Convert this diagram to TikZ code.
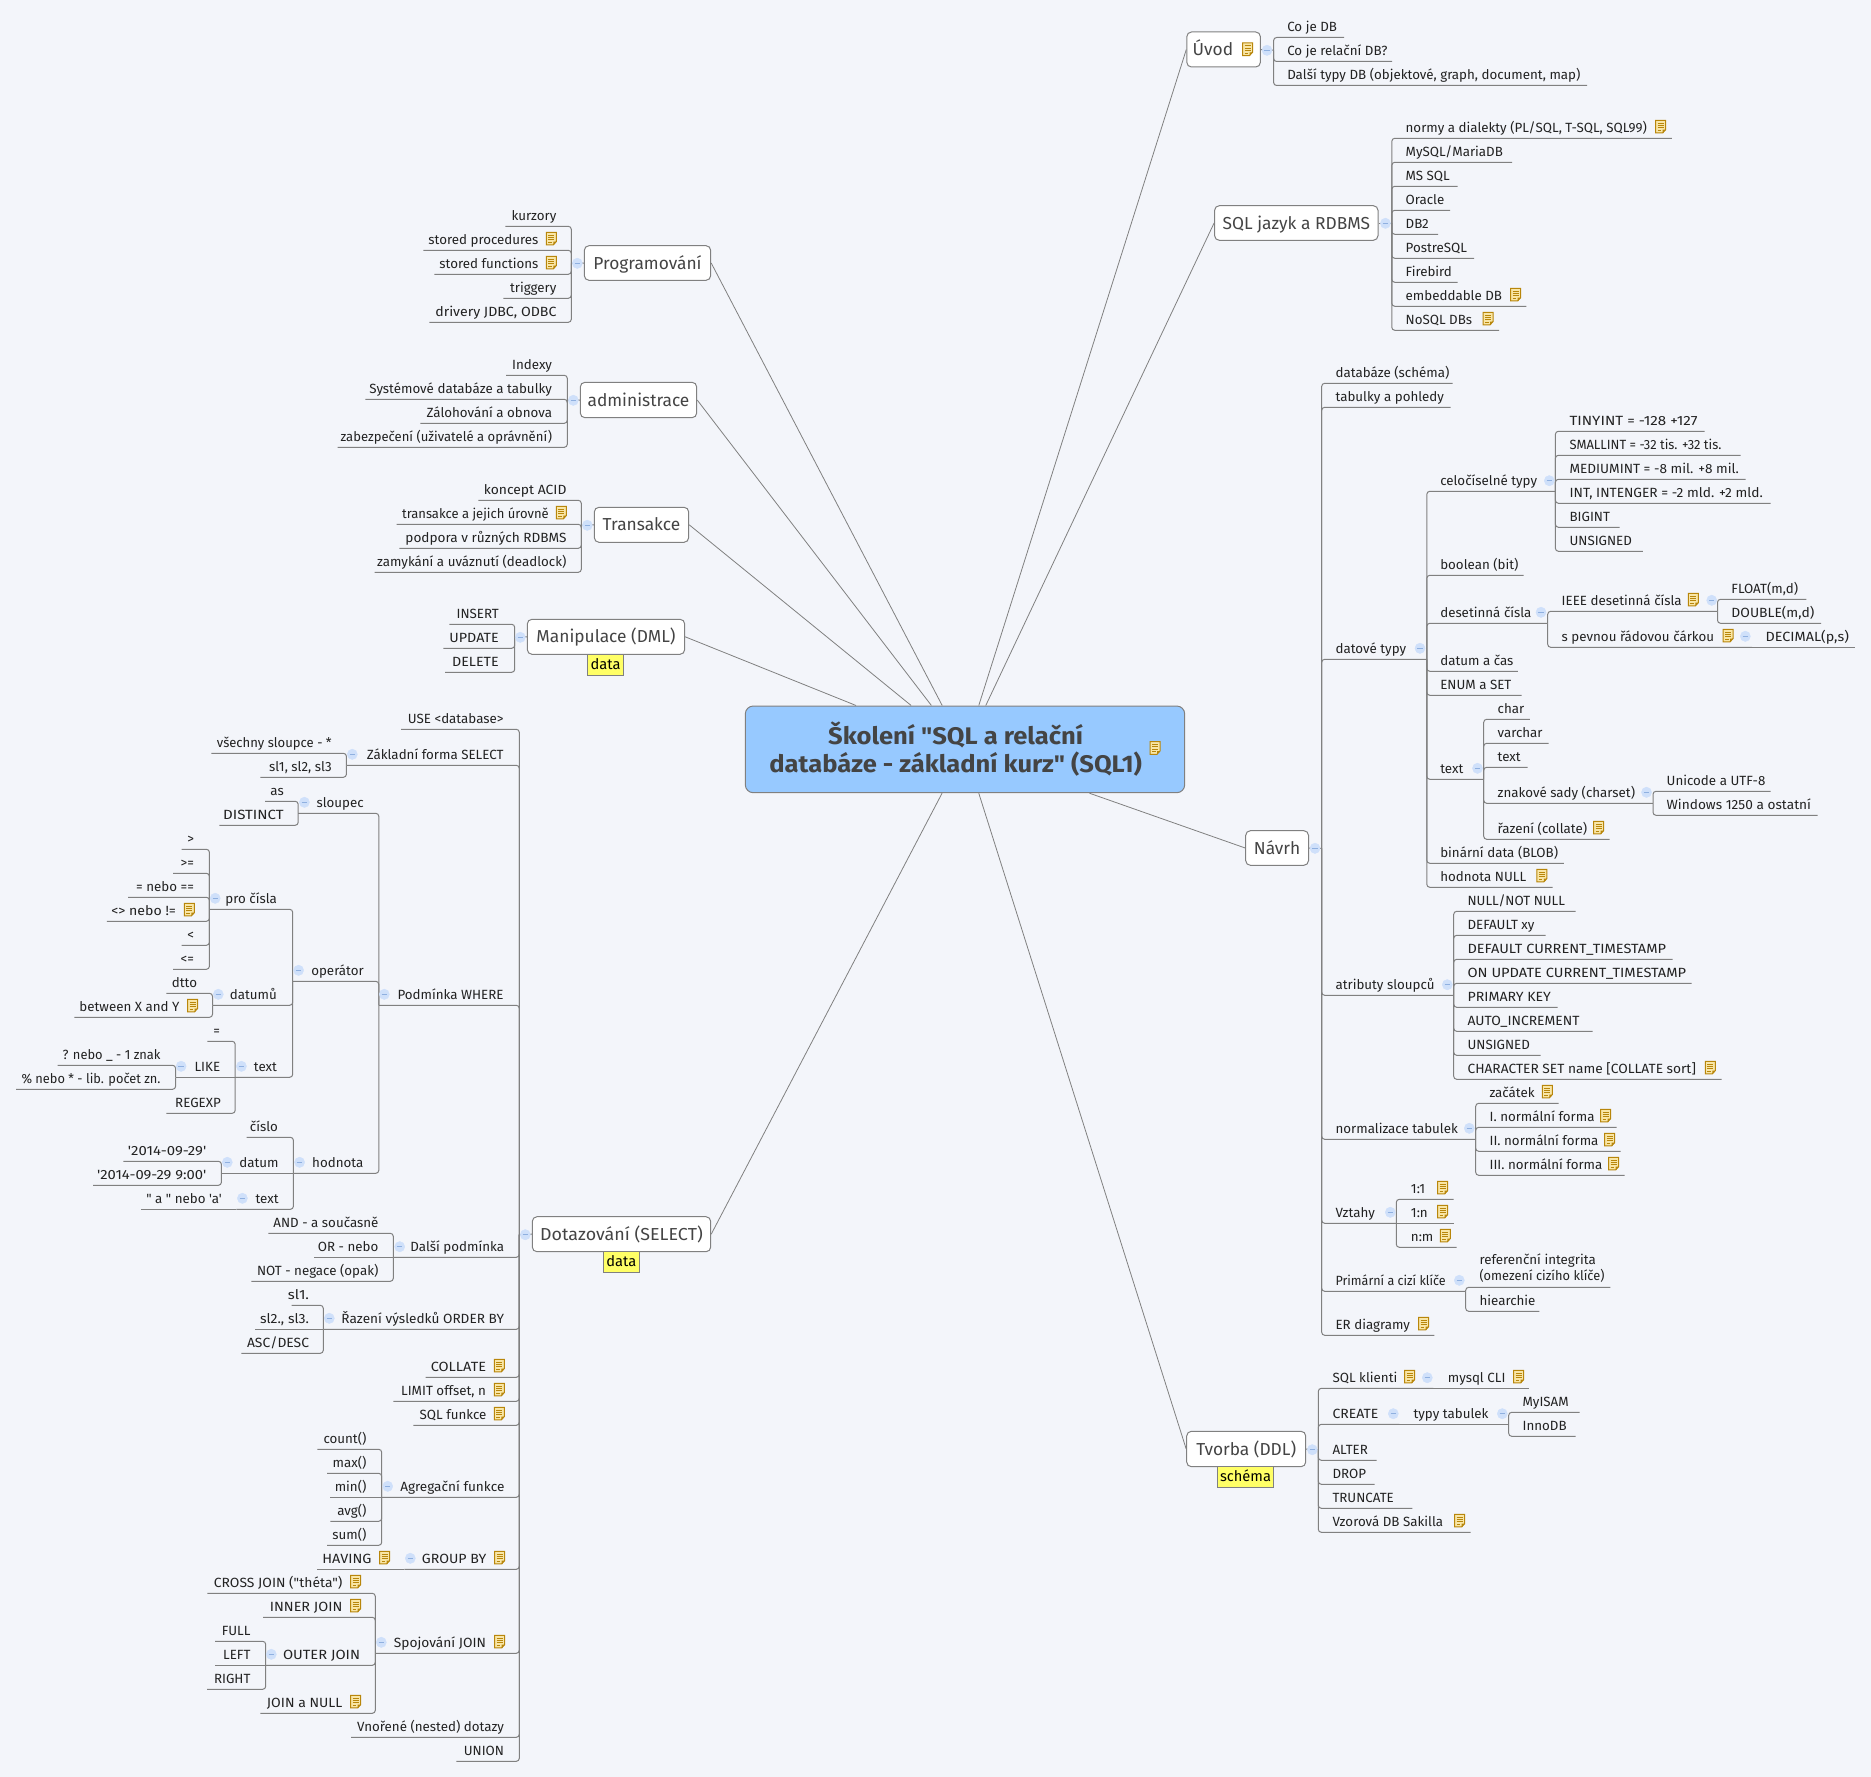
\documentclass[tikz,border=0pt]{standalone}
\usepackage{graphicx}
\usepackage{fontspec}
\newfontfamily\uifont{Fira Sans}
\newfontfamily\cenfont[FakeStretch=1.065]{Fira Sans}
\newcommand\fx[2]{\scalebox{#1}[1]{#2}}
\definecolor{bgc}{HTML}{F3F5FA}
\definecolor{linec}{HTML}{808080}
\definecolor{leafc}{HTML}{222222}
\definecolor{topc}{HTML}{444444}
\definecolor{cenf}{HTML}{97C9FF}
\definecolor{tagf}{HTML}{FFFF66}
\definecolor{togf}{HTML}{CFE0FA}
\definecolor{togm}{HTML}{8FB0E0}
\definecolor{notef}{HTML}{F9E6A6}
\definecolor{notec}{HTML}{B8860B}
\pgfdeclarelayer{conn}
\pgfsetlayers{conn,main}
\usetikzlibrary{shapes.geometric}
\tikzset{
 leaf/.style={font=\uifont\fontsize{10}{12}\selectfont,text=leafc,inner sep=0pt},
 conn/.style={draw=linec,line width=.75pt,rounded corners=2.25pt},
 spoke/.style={draw=linec,line width=.6pt},
 topic/.style={draw=linec,fill=white,line width=.75pt,rounded corners=3.5pt,inner sep=0pt,
   font=\uifont\fontsize{13}{15}\selectfont,text=topc,text height=12pt,text depth=3pt},
 centre/.style={draw=linec,fill=cenf,line width=.75pt,rounded corners=6pt,inner sep=0pt,
   font=\cenfont\bfseries\fontsize{18}{21.3}\selectfont,text=topc,align=center},
 tagbox/.style={draw=linec,fill=tagf,line width=.6pt,inner sep=0pt,
   font=\uifont\fontsize{11}{13}\selectfont,text=black,text height=8.6pt,text depth=2.2pt},
 tog/.style={ellipse,fill=togf,draw=togf,line width=.3pt,inner sep=0pt,minimum width=7.6pt,minimum height=7.8pt},
}
\newcommand\NT[2]{\begin{scope}[shift={(#1,#2-11.7)}]
 \draw[notec,fill=notef,line width=.75pt] (-5,-6.3) -- (5,-6.3) -- (5,3) -- (2,6.3) -- (-5,6.3) -- cycle;
 \fill[notec] (5,3) -- (2,3) -- (2,6.3) -- cycle;
 \draw[notec,line width=.5pt] (-3,-3.6) -- (3,-3.6) (-3,-1.2) -- (3,-1.2) (-3,1.2) -- (3,1.2) (-3,3.6) -- (0.5,3.6);
\end{scope}}
\newcommand\BAR[5]{\coordinate (#1) at (#2,#3);
 \node[tog] (#1c) at (#4,#5) {};
 \draw[togm,line width=.5pt] ([xshift=-2pt]#1c.center) -- ([xshift=2pt]#1c.center);}
\newdimen\cya \newdimen\cyb
\newcommand\CONNECT[2]{%
 \pgfextracty{\cya}{\pgfpointanchor{#1}{center}}%
 \pgfextracty{\cyb}{\pgfpointanchor{#2}{center}}%
 \advance\cya by -\cyb
 \ifdim\cya<0pt \cya=-\cya \fi
 \begin{pgfonlayer}{conn}%
 \ifdim\cya<0.3pt \draw[conn] (#1) -- (#2);\else \draw[conn] (#1) |- (#2);\fi
 \end{pgfonlayer}}
% [note x]{name}{parent}{y}{text x}{line end}{text}
\newcommand\RL[7][]{\node[leaf,anchor=base west] (#2) at (#5,#4-6.2) {#7};
 \coordinate (#2e) at (#6,#4);
 \CONNECT{#3}{#2e}
 \def\tmpn{#1}\ifx\tmpn\empty\else\NT{#1}{#4}\fi}
\newcommand\LL[7][]{\node[leaf,anchor=base east] (#2) at (#5,#4-6.2) {#7};
 \coordinate (#2e) at (#6,#4);
 \CONNECT{#3}{#2e}
 \def\tmpn{#1}\ifx\tmpn\empty\else\NT{#1}{#4}\fi}
\newcommand\TOPIC[7][]{\node[#1,minimum width={(#5-#3)*0.75pt},minimum height={(#6-#4)*0.75pt}] (#2) at ({(#3+#5)/2},{(#4+#6)/2}) {#7};}
\newcommand\STUB[2]{\begin{pgfonlayer}{conn}\draw[conn] (#1) -- (#2);\end{pgfonlayer}}
\newcommand\SPOKE[1]{\begin{pgfonlayer}{conn}\draw[spoke] (central) -- (#1);\end{pgfonlayer}}
\begin{document}
\begin{tikzpicture}[x=0.75pt,y=-0.75pt]
\useasboundingbox (0,0) rectangle (1871,1777);
\begin{pgfonlayer}{conn}\fill[bgc] (0,0) rectangle (1871,1777);\end{pgfonlayer}
% centre
\TOPIC[centre]{central}{745.3}{706}{1184.7}{792.7}{Školení "SQL a relační\hspace{14pt}\mbox{}\\databáze - základní kurz" (SQL1)\hspace{14pt}\mbox{}}
\NT{1155}{759.7}
% ----- Uvod
\TOPIC[topic]{uvod}{1186.8}{32}{1260.4}{67}{Úvod\hspace{16pt}\mbox{}}
\NT{1247.5}{61}
\SPOKE{uvod.west}
\BAR{pU}{1273.6}{50.3}{1267}{50.3}
\STUB{uvod.east}{pU}
\RL{u1}{pU}{37.5}{1287}{1344}{Co je DB}
\RL{u2}{pU}{61.5}{1287}{1392}{Co je relační DB?}
\RL{u3}{pU}{85.5}{1287}{1587}{Další typy DB (objektové, graph, document, map)}
% ----- SQL
\TOPIC[topic]{sql}{1214.6}{205.7}{1378}{240.3}{SQL jazyk a RDBMS}
\SPOKE{sql.west}
\BAR{pS}{1391.8}{223}{1385.4}{223.3}
\STUB{sql.east}{pS}
\RL[1660.7]{s1}{pS}{138.3}{1405.4}{1671.8}{normy a dialekty (PL/SQL, T-SQL, SQL99)}
\RL{s2}{pS}{162.3}{1405.4}{1512}{MySQL/MariaDB}
\RL{s3}{pS}{186.3}{1405.4}{1457.5}{MS SQL}
\RL{s4}{pS}{210.3}{1405.4}{1450}{Oracle}
\RL{s5}{pS}{234.3}{1405.4}{1438}{DB2}
\RL{s6}{pS}{258.3}{1405.4}{1474}{PostreSQL}
\RL{s7}{pS}{282.3}{1405.4}{1457.5}{Firebird}
\RL[1515.7]{s8}{pS}{306.3}{1405.4}{1526.4}{embeddable DB}
\RL[1488]{s9}{pS}{330.3}{1405.4}{1499}{NoSQL DBs}
% ----- Navrh
\TOPIC[topic]{navrh}{1245.7}{830.7}{1308.5}{865.3}{Návrh}
\SPOKE{navrh.west}
\BAR{pN}{1321.7}{848.3}{1315}{848.3}
\STUB{navrh.east}{pN}
\RL{n1}{pN}{383.3}{1335.3}{1452.7}{databáze (schéma)}
\RL{n2}{pN}{407.3}{1335.3}{1450.7}{tabulky a pohledy}
\RL{n3}{pN}{659.3}{1335.3}{1426.8}{datové typy}
\BAR{pD}{1426.8}{659.3}{1420}{648.3}
\RL{d1}{pD}{491.3}{1440}{1555.4}{celočíselné typy}
\BAR{pDa}{1555.4}{491.3}{1549.3}{480.7}
\RL{da1}{pDa}{431.3}{1569.3}{1704.7}{\fx{1.137}{TINYINT = -128 +127}}
\RL{da2}{pDa}{455.3}{1569.3}{1740.7}{\fx{0.97}{SMALLINT = -32 tis. +32 tis.}}
\RL{da3}{pDa}{479.3}{1569.3}{1745.7}{\fx{1.02}{MEDIUMINT = -8 mil. +8 mil.}}
\RL{da4}{pDa}{503.3}{1569.3}{1770.7}{\fx{1.03}{INT, INTENGER = -2 mld. +2 mld.}}
\RL{da5}{pDa}{527.3}{1569.3}{1619.5}{BIGINT}
\RL{da6}{pDa}{551.3}{1569.3}{1642.8}{UNSIGNED}
\RL{d2}{pD}{575.3}{1440}{1523.6}{boolean (bit)}
\RL{d3}{pD}{623.3}{1440}{1547.7}{desetinná čísla}
\BAR{pDb}{1547.7}{623.3}{1541}{612.3}
\RL[1693.4]{db1}{pDb}{611.3}{1561.4}{1717.5}{IEEE desetinná čísla}
\BAR{pDc}{1717.5}{611.3}{1711.7}{600.3}
\RL{dc1}{pDc}{599.3}{1731.2}{1806.4}{FLOAT(m,d)}
\RL{dc2}{pDc}{623.3}{1731.2}{1821}{\fx{1.04}{DOUBLE(m,d)}}
\RL[1728]{db2}{pDb}{647.3}{1561.4}{1752}{s pevnou řádovou čárkou}
\BAR{pDd}{1752}{647.3}{1745.3}{636.3}
\RL{dd1}{pDd}{647.3}{1765.3}{1854.5}{\fx{1.077}{DECIMAL(p,s)}}
\RL{d4}{pD}{671.3}{1440}{1517.8}{datum a čas}
\RL{d5}{pD}{695.3}{1440}{1521.5}{ENUM a SET}
\RL{d6}{pD}{779.3}{1440}{1483.7}{text}
\BAR{pDe}{1483.7}{779.3}{1477.5}{768.3}
\RL{de1}{pDe}{719.3}{1497.4}{1529.8}{char}
\RL{de2}{pDe}{743.3}{1497.4}{1548.5}{varchar}
\RL{de3}{pDe}{767.3}{1497.4}{1527.7}{text}
\RL{de4}{pDe}{803.3}{1497.4}{1653}{znakové sady (charset)}
\BAR{pDf}{1653}{803.3}{1646.5}{792.3}
\RL{df1}{pDf}{791.3}{1666.4}{1770.7}{Unicode a UTF-8}
\RL{df2}{pDf}{815.3}{1666.4}{1817.6}{\fx{1.025}{Windows 1250 a ostatní}}
\RL[1598.7]{de5}{pDe}{839.3}{1497.4}{1609.5}{řazení (collate)}
\RL{d7}{pD}{863.3}{1440}{1563.9}{binární data (BLOB)}
\RL[1541.8]{d8}{pD}{887.3}{1440}{1552.6}{hodnota NULL}
\RL{n4}{pN}{995.3}{1335.3}{1453.7}{atributy sloupců}
\BAR{pA}{1453.7}{995.3}{1447.3}{984.7}
\RL{a1}{pA}{911.3}{1467.3}{1575.7}{NULL/NOT NULL}
\RL{a2}{pA}{935.3}{1467.3}{1545.7}{DEFAULT xy}
\RL{a3}{pA}{959.3}{1467.3}{1672.7}{\fx{1.09}{DEFAULT CURRENT\_TIMESTAMP}}
\RL{a4}{pA}{983.3}{1467.3}{1691.7}{\fx{1.095}{ON UPDATE CURRENT\_TIMESTAMP}}
\RL{a5}{pA}{1007.3}{1467.3}{1557.7}{\fx{1.06}{PRIMARY KEY}}
\RL{a6}{pA}{1031.3}{1467.3}{1592.7}{\fx{1.04}{AUTO\_INCREMENT}}
\RL{a7}{pA}{1055.3}{1467.3}{1540.7}{UNSIGNED}
\RL[1710.3]{a8}{pA}{1079.3}{1467.3}{1721.7}{\fx{1.03}{CHARACTER SET name [COLLATE sort]}}
\RL{n5}{pN}{1139.3}{1335.3}{1475.7}{normalizace tabulek}
\BAR{pF}{1475.7}{1139.3}{1469.3}{1128.3}
\RL[1547.3]{f1}{pF}{1103.3}{1489.3}{1558.7}{začátek}
\RL[1605.7]{f2}{pF}{1127.3}{1489.3}{1616.7}{I. normální forma}
\RL[1609.7]{f3}{pF}{1151.3}{1489.3}{1620.7}{II. normální forma}
\RL[1613.7]{f4}{pF}{1175.3}{1489.3}{1624.7}{III. normální forma}
\RL{n6}{pN}{1223.3}{1335.3}{1396.3}{Vztahy}
\BAR{pV}{1396.3}{1223.3}{1390.3}{1212.3}
\RL[1442.7]{v1}{pV}{1199.3}{1410.7}{1453.7}{1:1}
\RL[1442.7]{v2}{pV}{1223.3}{1410.7}{1453.7}{1:n}
\RL[1445.3]{v3}{pV}{1247.3}{1410.7}{1456.7}{n:m}
\RL{n7}{pN}{1291.3}{1335.3}{1465.7}{\fx{0.94}{Primární a cizí klíče}}
\BAR{pP}{1465.7}{1291.3}{1459.3}{1280.3}
\node[leaf,anchor=base west,align=left] (r1) at (1479.3,1280.6) {referenční integrita\\\fx{0.96}{(omezení cizího klíče)}};
\coordinate (r1e) at (1610.3,1287.3);
\CONNECT{pP}{r1e}
\RL{r2}{pP}{1311.3}{1479.3}{1539.3}{hiearchie}
\RL[1423.7]{n8}{pN}{1335.3}{1335.3}{1434.3}{ER diagramy}
% ----- Tvorba
\TOPIC[topic]{tvorba}{1186.7}{1431.3}{1305.7}{1466.7}{Tvorba (DDL)}
\TOPIC[tagbox]{tagT}{1217.3}{1466.7}{1273.7}{1487.3}{schéma}
\SPOKE{tvorba.west}
\BAR{pT}{1318.3}{1449.7}{1312.3}{1449.7}
\STUB{tvorba.east}{pT}
\RL[1409.7]{t1}{pT}{1388.3}{1332.3}{1433.3}{SQL klienti}
\BAR{pTa}{1433.3}{1388.3}{1427.3}{1377.7}
\RL[1518.7]{ta1}{pTa}{1388.3}{1447.7}{1529.3}{mysql CLI}
\RL{t2}{pT}{1424.3}{1332.3}{1399.3}{\fx{1.05}{CREATE}}
\BAR{pTb}{1399.3}{1424.3}{1393.3}{1413.7}
\RL{tb1}{pTb}{1424.3}{1413.3}{1508.7}{typy tabulek}
\BAR{pTc}{1508.7}{1424.3}{1502.3}{1413.7}
\RL{tc1}{pTc}{1412.3}{1522.3}{1579.7}{MyISAM}
\RL{tc2}{pTc}{1436.3}{1522.3}{1575.7}{InnoDB}
\RL{t3}{pT}{1460.3}{1332.3}{1376.7}{ALTER}
\RL{t4}{pT}{1484.3}{1332.3}{1374.7}{DROP}
\RL{t5}{pT}{1508.3}{1332.3}{1412.3}{TRUNCATE}
\RL[1459.7]{t6}{pT}{1532.3}{1332.3}{1470.7}{Vzorová DB Sakilla}
% ----- Programovani
\TOPIC[topic]{prog}{584.3}{245.7}{710.7}{280.3}{Programování}
\SPOKE{prog.east}
\BAR{pG}{571.3}{263.3}{577.3}{263.3}
\STUB{prog.west}{pG}
\LL{g1}{pG}{226.3}{556.7}{505.3}{kurzory}
\LL[551.3]{g2}{pG}{250.3}{538.7}{423.3}{stored procedures}
\LL[551.3]{g3}{pG}{274.3}{538.7}{434.3}{stored functions}
\LL{g4}{pG}{298.3}{556.7}{503.3}{triggery}
\LL{g5}{pG}{322.3}{556.7}{429.3}{\fx{1.06}{drivery JDBC, ODBC}}
% ----- administrace
\TOPIC[topic]{admin}{580.3}{382.3}{696.7}{417.7}{administrace}
\SPOKE{admin.east}
\BAR{pH}{567.3}{400.3}{573.3}{400.3}
\STUB{admin.west}{pH}
\LL{h1}{pH}{375.3}{552.3}{506}{Indexy}
\LL{h2}{pH}{399.3}{552.3}{365.3}{Systémové databáze a tabulky}
\LL{h3}{pH}{423.3}{552.3}{420.3}{Zálohování a obnova}
\LL{h4}{pH}{447.3}{552.3}{337.7}{\fx{0.98}{zabezpečení (uživatelé a oprávnění)}}
% ----- Transakce
\TOPIC[topic]{trans}{594.3}{507.3}{688.7}{542.3}{Transakce}
\SPOKE{trans.east}
\BAR{pK}{581.3}{525.3}{587.3}{525.3}
\STUB{trans.west}{pK}
\LL{k1}{pK}{500.3}{566.7}{478.3}{\fx{1.04}{koncept ACID}}
\LL[561.3]{k2}{pK}{524.3}{549}{396.7}{\fx{0.975}{transakce a jejich úrovně}}
\LL{k3}{pK}{548.3}{566.7}{399.3}{\fx{1.02}{podpora v různých RDBMS}}
\LL{k4}{pK}{572.3}{566.7}{374.7}{zamykání a uváznutí (deadlock)}
% ----- Manipulace
\TOPIC[topic]{manip}{527.3}{619.3}{684.7}{654.3}{Manipulace (DML)}
\TOPIC[tagbox]{tagM}{587.3}{654.3}{623.7}{675.3}{data}
\SPOKE{manip.east}
\BAR{pM}{514.7}{637.3}{520.3}{637.3}
\STUB{manip.west}{pM}
\LL{m1}{pM}{624.3}{499}{449.3}{INSERT}
\LL{m2}{pM}{648.3}{499}{443.3}{\fx{1.07}{UPDATE}}
\LL{m3}{pM}{672.3}{499}{445}{\fx{1.07}{DELETE}}
% ----- Dotazovani
\TOPIC[topic]{dotaz}{532.3}{1216.7}{710.7}{1251.7}{\fx{1.03}{Dotazování (SELECT)}}
\TOPIC[tagbox]{tagD}{603.3}{1251.7}{639.3}{1272.3}{data}
\SPOKE{dotaz.east}
\BAR{pQ}{519.3}{1234.7}{525.3}{1234.7}
\STUB{dotaz.west}{pQ}
\LL{q1}{pQ}{729.3}{503.8}{401.2}{USE <database>}
\LL{q2}{pQ}{765.3}{503.8}{346.4}{Základní forma SELECT}
\BAR{pQa}{346.4}{765.3}{352.3}{754.3}
\LL{qa1}{pQa}{753.3}{332}{211.4}{\fx{0.98}{všechny sloupce - *}}
\LL{qa2}{pQa}{777.3}{332}{260.3}{sl1, sl2, sl3}
\LL{q3}{pQ}{1005.3}{503.8}{378.8}{Podmínka WHERE}
\BAR{pW}{378.8}{1005.3}{384.3}{994.3}
\LL{w1}{pW}{813.3}{364}{298.2}{sloupec}
\BAR{pWa}{298.2}{813.3}{304.4}{802.3}
\LL{wa1}{pWa}{801.3}{284}{265.2}{as}
\LL{wa2}{pWa}{825.3}{284}{219.4}{\fx{1.13}{DISTINCT}}
\LL{w2}{pW}{981.3}{364}{292.7}{operátor}
\BAR{pO}{292.7}{981.3}{298.6}{970.3}
\LL{o1}{pO}{909.3}{277.2}{209.4}{pro čísla}
\BAR{pOa}{209.4}{909.3}{215.2}{898.3}
\LL{oa1}{pOa}{849.3}{194.2}{181.5}{>}
\LL{oa2}{pOa}{873.3}{194.2}{173.2}{>=}
\LL{oa3}{pOa}{897.3}{194.2}{128.1}{= nebo ==}
\LL[189.4]{oa4}{pOa}{921.3}{176.3}{106.8}{\fx{1.06}{<> nebo !=}}
\LL{oa5}{pOa}{945.3}{194.2}{181.5}{<}
\LL{oa6}{pOa}{969.3}{194.2}{173.2}{<=}
\LL{o2}{pO}{1005.3}{277.2}{212.5}{datumů}
\BAR{pOb}{212.5}{1005.3}{218.3}{994.3}
\LL{ob1}{pOb}{993.3}{197.3}{166.3}{dtto}
\LL[192.5]{ob2}{pOb}{1017.3}{179.8}{74.4}{between X and Y}
\LL{o3}{pO}{1077.3}{277.2}{235.2}{text}
\BAR{pOc}{235.2}{1077.3}{241.4}{1066.3}
\LL{oc1}{pOc}{1041.3}{220.4}{207.3}{=}
\LL{oc2}{pOc}{1077.3}{220.4}{175.6}{LIKE}
\BAR{pOd}{175.6}{1077.3}{181.1}{1066.3}
\LL{od1}{pOd}{1065.3}{160.8}{57.5}{\fx{0.965}{? nebo \_ - 1 znak}}
\LL{od2}{pOd}{1089.3}{160.8}{16.2}{\fx{0.96}{\% nebo * - lib. počet zn.}}
\LL{oc3}{pOc}{1113.3}{221}{166.3}{REGEXP}
\LL{w3}{pW}{1173.3}{363.6}{293.4}{hodnota}
\BAR{pX}{293.4}{1173.3}{299.6}{1162.3}
\LL{x1}{pX}{1137.3}{278.2}{246.6}{číslo}
\LL{x2}{pX}{1173.3}{278.9}{221.4}{datum}
\BAR{pXa}{221.4}{1173.3}{227.3}{1162.3}
\LL{xa1}{pXa}{1161.3}{206.6}{123.3}{\fx{1.12}{'2014-09-29'}}
\LL{xa2}{pXa}{1185.3}{206.6}{93}{\fx{1.11}{'2014-09-29 9:00'}}
\LL{x3}{pX}{1209.3}{278.9}{236.4}{text}
\BAR{pXb}{236.4}{1209.3}{242.4}{1198.3}
\LL{xb1}{pXb}{1209.3}{222.1}{141.2}{" a " nebo 'a'}
\LL{q4}{pQ}{1257.3}{504.3}{393.3}{Další podmínka}
\BAR{pY}{393.3}{1257.3}{399.7}{1246.7}
\LL{y1}{pY}{1233.3}{378.7}{268.3}{AND - a současně}
\LL{y2}{pY}{1257.3}{378.7}{314.3}{OR - nebo}
\LL{y3}{pY}{1281.3}{378.7}{251.3}{NOT - negace (opak)}
\LL{q5}{pQ}{1329.3}{504.3}{323.3}{\fx{1.02}{Řazení výsledků ORDER BY}}
\BAR{pZ}{323.3}{1329.3}{329.3}{1318.3}
\LL{z1}{pZ}{1305.3}{309.3}{291.7}{\fx{1.12}{sl1.}}
\LL{z2}{pZ}{1329.3}{309.3}{255.3}{\fx{1.05}{sl2., sl3.}}
\LL{z3}{pZ}{1353.3}{309.3}{241.3}{\fx{1.04}{ASC/DESC}}
\LL[499.3]{q6}{pQ}{1377.3}{486.3}{425.7}{\fx{1.09}{COLLATE}}
\LL[499.3]{q7}{pQ}{1401.3}{486.3}{393.3}{LIMIT offset, n}
\LL[499.3]{q8}{pQ}{1425.3}{486.7}{413.3}{SQL funkce}
\LL{q9}{pQ}{1497.3}{504.7}{381.7}{\fx{1.02}{Agregační funkce}}
\BAR{pB}{381.7}{1497.3}{387.7}{1486.3}
\LL{b1}{pB}{1449.3}{366.7}{317.3}{count()}
\LL{b2}{pB}{1473.3}{366.7}{327}{max()}
\LL{b3}{pB}{1497.3}{366.7}{330.3}{min()}
\LL{b4}{pB}{1521.3}{366.7}{330.3}{avg()}
\LL{b5}{pB}{1545.3}{366.7}{327}{sum()}
\LL[499.7]{q10}{pQ}{1569.3}{486.7}{404.3}{\fx{1.06}{GROUP BY}}
\BAR{pC}{404.3}{1569.3}{410.3}{1558.3}
\LL[384.7]{c1}{pC}{1569.3}{371.7}{317.3}{\fx{1.08}{HAVING}}
\LL[499.7]{q11}{pQ}{1653.3}{486.3}{375.3}{\fx{1.03}{Spojování JOIN}}
\BAR{pJ}{375.3}{1653.3}{381.3}{1642.3}
\LL[355.7]{j1}{pJ}{1593.3}{342.7}{207.3}{\fx{1.04}{CROSS JOIN ("théta")}}
\LL[355.7]{j2}{pJ}{1617.3}{342.7}{263}{\fx{1.08}{INNER JOIN}}
\LL{j3}{pJ}{1665.3}{360.3}{265.7}{\fx{1.1}{OUTER JOIN}}
\BAR{pJa}{265.7}{1665.3}{271.3}{1654.3}
\LL{ja1}{pJa}{1641.3}{250.7}{215}{FULL}
\LL{ja2}{pJa}{1665.3}{250.7}{215}{LEFT}
\LL{ja3}{pJa}{1689.3}{250.7}{207}{RIGHT}
\LL[355.7]{j4}{pJ}{1713.3}{342.7}{260.3}{\fx{1.05}{JOIN a NULL}}
\LL{q12}{pQ}{1737.3}{504.3}{351}{Vnořené (nested) dotazy}
\LL{q13}{pQ}{1761.3}{504.3}{456.3}{UNION}
\end{tikzpicture}
\end{document}
